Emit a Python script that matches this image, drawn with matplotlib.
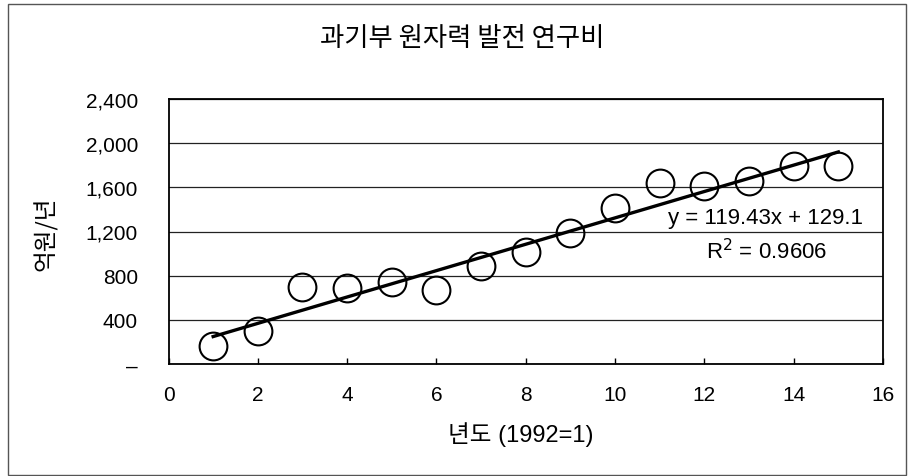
import matplotlib
matplotlib.use("Agg")
import matplotlib.pyplot as plt
from matplotlib.patches import Rectangle
from matplotlib.ticker import FuncFormatter

# 년도 (1992=1) 와 연구비 (억원/년), 그림에서 읽은 값
years = [1, 2, 3, 4, 5, 6, 7, 8, 9, 10, 11, 12, 13, 14, 15]
budget = [166, 302, 695, 689, 746, 673, 890, 1012, 1186, 1410,
          1636, 1615, 1660, 1796, 1791]

# 추세선 (그림의 식)
slope = 119.43
intercept = 129.1
r2 = 0.9606

num_font = ["Liberation Sans", "Noto Sans CJK KR"]
kr_font = ["Noto Sans CJK KR", "DejaVu Sans"]

fig = plt.figure(figsize=(9.1, 4.77), dpi=100)
ax = fig.add_axes([168.5 / 910, 1 - 365 / 477, (883 - 168.5) / 910, 265 / 477])

# 바깥 테두리
fig.add_artist(Rectangle((8 / 910, 1 / 477), 898 / 910, 471 / 477,
                         transform=fig.transFigure, fill=False,
                         edgecolor="#555555", lw=1))

ax.set_xlim(0, 16)
ax.set_ylim(0, 2400)
ax.set_xticks(range(0, 17, 2))
ax.set_yticks(range(0, 2401, 400))
ax.yaxis.set_major_formatter(FuncFormatter(lambda v, p: "–" if v == 0 else f"{int(v):,}"))

ax.grid(axis="y", color="#222222", lw=0.9)
ax.set_axisbelow(True)
for s in ax.spines.values():
    s.set_linewidth(1.3)
    s.set_color("black")

ax.tick_params(axis="x", direction="in", length=4, width=1, pad=15, labelsize=15)
ax.tick_params(axis="y", length=0, pad=22, labelsize=15)
for lab in ax.get_xticklabels() + ax.get_yticklabels():
    lab.set_family(num_font)

tx = [years[0], years[-1]]
ty = [slope * x + intercept for x in tx]
ax.plot(tx, ty, color="black", lw=2.4, zorder=3)
ax.plot(years, budget, linestyle="none", marker="o", markersize=20,
        markerfacecolor="none", markeredgecolor="black", markeredgewidth=1.5,
        zorder=4, clip_on=False)

ax.text(13.37, 1331, f"y = {slope}x + {intercept}", ha="center", va="center",
        fontsize=16, family=num_font)
ax.text(13.4, 1023, f"R$^2$ = {r2}", ha="center", va="center",
        fontsize=16, family=num_font)

fig.text(462 / 910, 1 - 38 / 477, "과기부 원자력 발전 연구비", ha="center", va="center",
         fontsize=19, family=kr_font)
fig.text(46 / 910, 1 - 234 / 477, "억원/년", ha="center", va="center",
         rotation=90, fontsize=17, family=kr_font)
fig.text(521 / 910, 1 - 435 / 477, "년도 (1992=1)", ha="center", va="center",
         fontsize=17, family=num_font)

fig.savefig("out.png", dpi=100)
